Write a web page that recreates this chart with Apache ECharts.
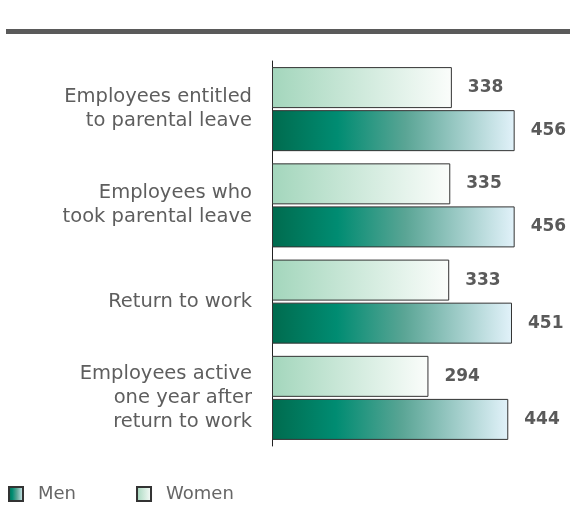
<!DOCTYPE html>
<html>
<head>
<meta charset="utf-8">
<script src="https://cdn.jsdelivr.net/npm/echarts@6/dist/echarts.min.js"></script>
<style>
  html, body { margin: 0; padding: 0; background: #fff; }
  #chart { width: 570px; height: 511px; }
</style>
</head>
<body>
<div id="chart"></div>
<script>
// chart data
var categories = [
  'Employees entitled\nto parental leave',
  'Employees who\ntook parental leave',
  'Return to work',
  'Employees active\none year after\nreturn to work'
]
var women = [338, 335, 333, 294]
var men = [456, 456, 451, 444]

var womenFill = new echarts.graphic.LinearGradient(0, 0, 1, 0, [
  { offset: 0, color: '#a3d6bc' },
  { offset: 1, color: '#fbfdfb' }
])
var menFill = new echarts.graphic.LinearGradient(0, 0, 1, 0, [
  { offset: 0, color: '#006b4e' },
  { offset: 0.27, color: '#008c72' },
  { offset: 0.55, color: '#5aa595' },
  { offset: 1, color: '#e2f2fa' }
])

var valueLabel = {
  show: true,
  position: 'right',
  distance: 16,
  color: '#5a5a5a',
  fontFamily: 'DejaVu Sans',
  fontWeight: 'bold',
  fontSize: 17
}

var chart = echarts.init(document.getElementById('chart'))
chart.setOption({
  animation: false,
  graphic: [
    {
      type: 'rect',
      left: 6,
      top: 29,
      shape: { width: 564, height: 5 },
      style: { fill: '#5a5a5a' }
    }
  ],
  legend: {
    data: ['Men', 'Women'],
    left: 8,
    top: 485,
    padding: 0,
    icon: 'rect',
    itemWidth: 14,
    itemHeight: 14,
    itemGap: 60,
    textStyle: {
      color: '#666',
      fontSize: 18,
      fontFamily: 'DejaVu Sans',
      padding: [0, 0, 0, 10]
    }
  },
  grid: {
    left: 272,
    right: 0,
    top: 61,
    height: 385
  },
  xAxis: {
    type: 'value',
    min: 0,
    max: 560,
    show: false
  },
  yAxis: {
    type: 'category',
    inverse: true,
    data: categories,
    axisLine: { show: true, lineStyle: { color: '#222', width: 1 } },
    axisTick: { show: false },
    axisLabel: {
      margin: 20,
      align: 'right',
      color: '#5e5e5e',
      fontSize: 19.5,
      lineHeight: 24,
      fontFamily: 'DejaVu Sans'
    }
  },
  series: [
    {
      name: 'Women',
      type: 'bar',
      data: women,
      barWidth: 41,
      barGap: '5%',
      itemStyle: { color: womenFill, borderColor: '#333', borderWidth: 1 },
      label: valueLabel
    },
    {
      name: 'Men',
      type: 'bar',
      data: men,
      barWidth: 41,
      barGap: '5%',
      itemStyle: { color: menFill, borderColor: '#333', borderWidth: 1 },
      label: valueLabel
    }
  ]
})
</script>
</body>
</html>
